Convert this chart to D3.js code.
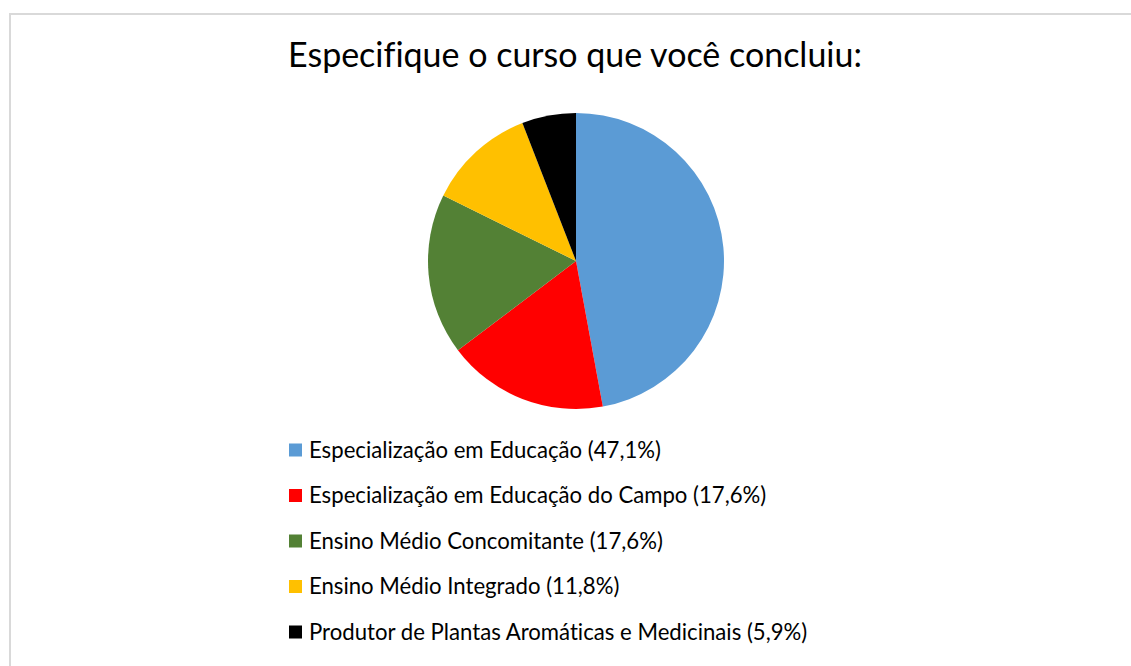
<!DOCTYPE html>
<html lang="pt">
<head>
    <meta charset="UTF-8">
    <title>Especifique o curso que você concluiu</title>
    <script src="https://d3js.org/d3.v7.min.js"></script>
    <style>
        body {
            margin: 0;
            background: #fff;
            font-family: Lato, "Open Sans", sans-serif;
        }
        text {
            font-variant-ligatures: none; /* sem ligadura "fi" */
        }
    </style>
</head>
<body>
    <div id="chart"></div>
    <script>
        // dados
        const categories = [
            "Especialização em Educação",
            "Especialização em Educação do Campo",
            "Ensino Médio Concomitante",
            "Ensino Médio Integrado",
            "Produtor de Plantas Aromáticas e Medicinais"
        ];
        const values = [47.1, 17.6, 17.6, 11.8, 5.9];
        const labels = ["47,1%", "17,6%", "17,6%", "11,8%", "5,9%"];
        const colors = ["#5B9BD5", "#FF0000", "#538135", "#FFC000", "#000000"];

        const width = 1131;
        const height = 666;

        const svg = d3.select("#chart")
            .append("svg")
            .attr("width", width)
            .attr("height", height);

        // borda do gráfico
        svg.append("rect")
            .attr("x", 10)
            .attr("y", 14)
            .attr("width", width)
            .attr("height", height)
            .attr("fill", "none")
            .attr("stroke", "#d9d9d9")
            .attr("stroke-width", 2);

        // título
        const title = svg.append("text")
            .attr("x", 575)
            .attr("y", 67)
            .attr("text-anchor", "middle")
            .attr("fill", "#000")
            .attr("font-size", 30)
            .text("Especifique o curso que você concluiu:");
        // ajusta o tamanho para a largura do original
        let tw = title.node().getComputedTextLength();
        title.attr("font-size", 30 * 574 / tw);

        // pizza
        const radius = 148;
        const g = svg.append("g")
            .attr("transform", `translate(576,261)`);

        const pie = d3.pie().sort(null).value(d => d);
        const arc = d3.arc().innerRadius(0).outerRadius(radius);

        g.selectAll("path")
            .data(pie(values))
            .enter()
            .append("path")
            .attr("d", arc)
            .attr("fill", (d, i) => colors[i]);

        // legenda
        const y = d3.scalePoint()
            .domain(d3.range(categories.length))
            .range([450, 632]);

        const legend = svg.append("g");
        const items = legend.selectAll("g")
            .data(categories)
            .enter()
            .append("g")
            .attr("transform", (d, i) => `translate(289,${y(i)})`);

        items.append("rect")
            .attr("x", 0)
            .attr("y", -6.5)
            .attr("width", 13)
            .attr("height", 13)
            .attr("fill", (d, i) => colors[i]);

        const texts = items.append("text")
            .attr("x", 20)
            .attr("dy", "0.35em")
            .attr("fill", "#000")
            .attr("font-size", 19)
            .text((d, i) => `${d} (${labels[i]})`);

        const lw = texts.nodes()[0].getComputedTextLength();
        texts.attr("font-size", 19 * 352 / lw);
    </script>
</body>
</html>
